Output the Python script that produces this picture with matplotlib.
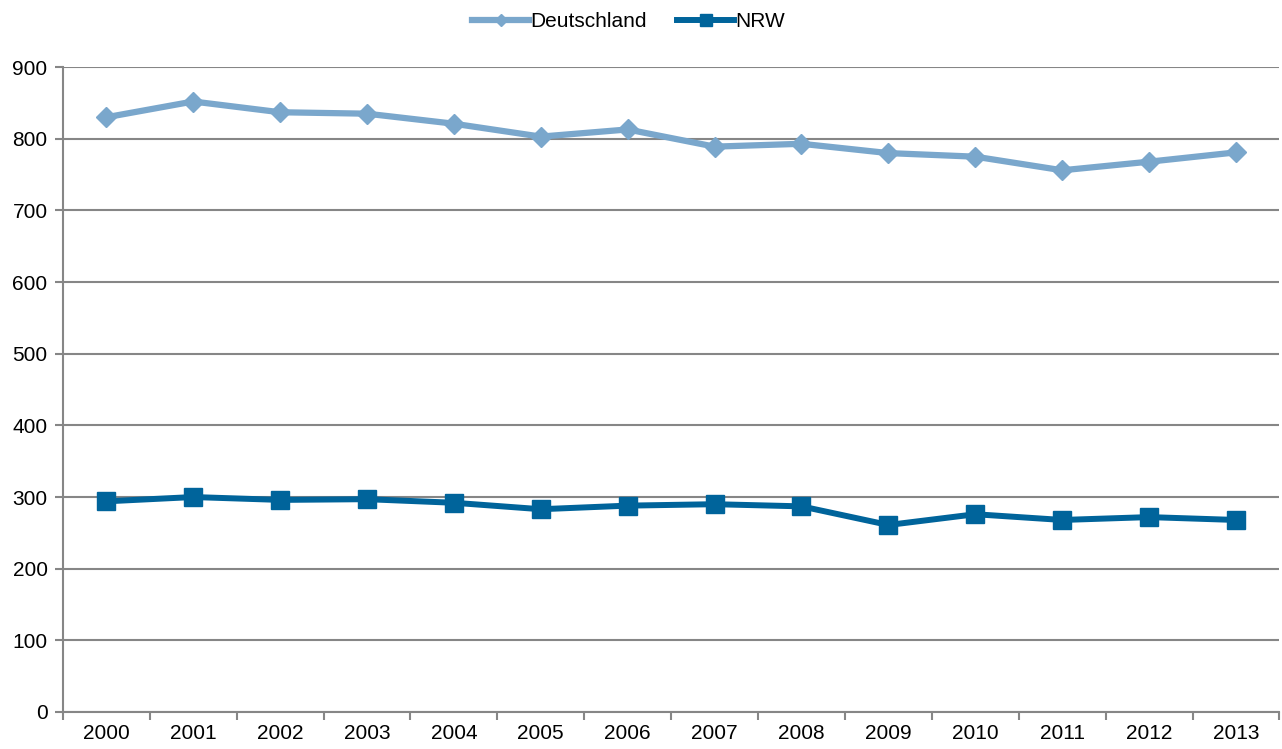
import numpy as np
import matplotlib.pyplot as plt

plt.rcParams['font.family'] = ['Liberation Sans', 'DejaVu Sans']

jahre = ['2000', '2001', '2002', '2003', '2004', '2005', '2006',
         '2007', '2008', '2009', '2010', '2011', '2012', '2013']
deutschland = [830, 852, 837, 835, 821, 803, 813, 789, 793, 780, 775, 756, 768, 781]
nrw = [294, 300, 296, 297, 292, 283, 288, 290, 287, 261, 276, 268, 272, 268]

x = np.arange(len(jahre))

fig = plt.figure(figsize=(12.82, 7.49), dpi=100)
ax = fig.add_axes([0.049, 0.0494, 0.949, 0.861])

ax.plot(x, deutschland, color='#7aa7cc', linewidth=4.5, marker='D',
        markersize=10.5, label='Deutschland', zorder=3)
ax.plot(x, nrw, color='#00649b', linewidth=4.3, marker='s',
        markersize=13, label='NRW', zorder=3)

ax.set_xlim(-0.5, len(jahre) - 0.5)
ax.set_ylim(0, 900)
ax.set_yticks(range(0, 1000, 100))
ax.set_xticks(x)
ax.set_xticklabels(jahre)
ax.set_xticks(np.arange(-0.5, len(jahre)), minor=True)
ax.tick_params(axis='x', which='major', length=0, labelsize=15, pad=9)
ax.tick_params(axis='x', which='minor', length=6, width=1.5, color='#868686')
ax.tick_params(axis='y', length=6, width=1.5, color='#868686', labelsize=15, pad=5)

ax.grid(axis='y', color='#868686', linewidth=1.5)
ax.set_axisbelow(True)
for s in ['top', 'right']:
    ax.spines[s].set_visible(False)
for s in ['left', 'bottom']:
    ax.spines[s].set_color('#868686')
    ax.spines[s].set_linewidth(1.5)

leg = fig.legend(loc='center', bbox_to_anchor=(0.4903, 0.971), ncol=2, frameon=False,
                 fontsize=15, handlelength=2.75, handletextpad=0.05, columnspacing=1.45)
leg_lines = leg.get_lines()
leg_lines[0].set_markersize(6)
leg_lines[1].set_markersize(8)

fig.savefig('out.png', dpi=100)
